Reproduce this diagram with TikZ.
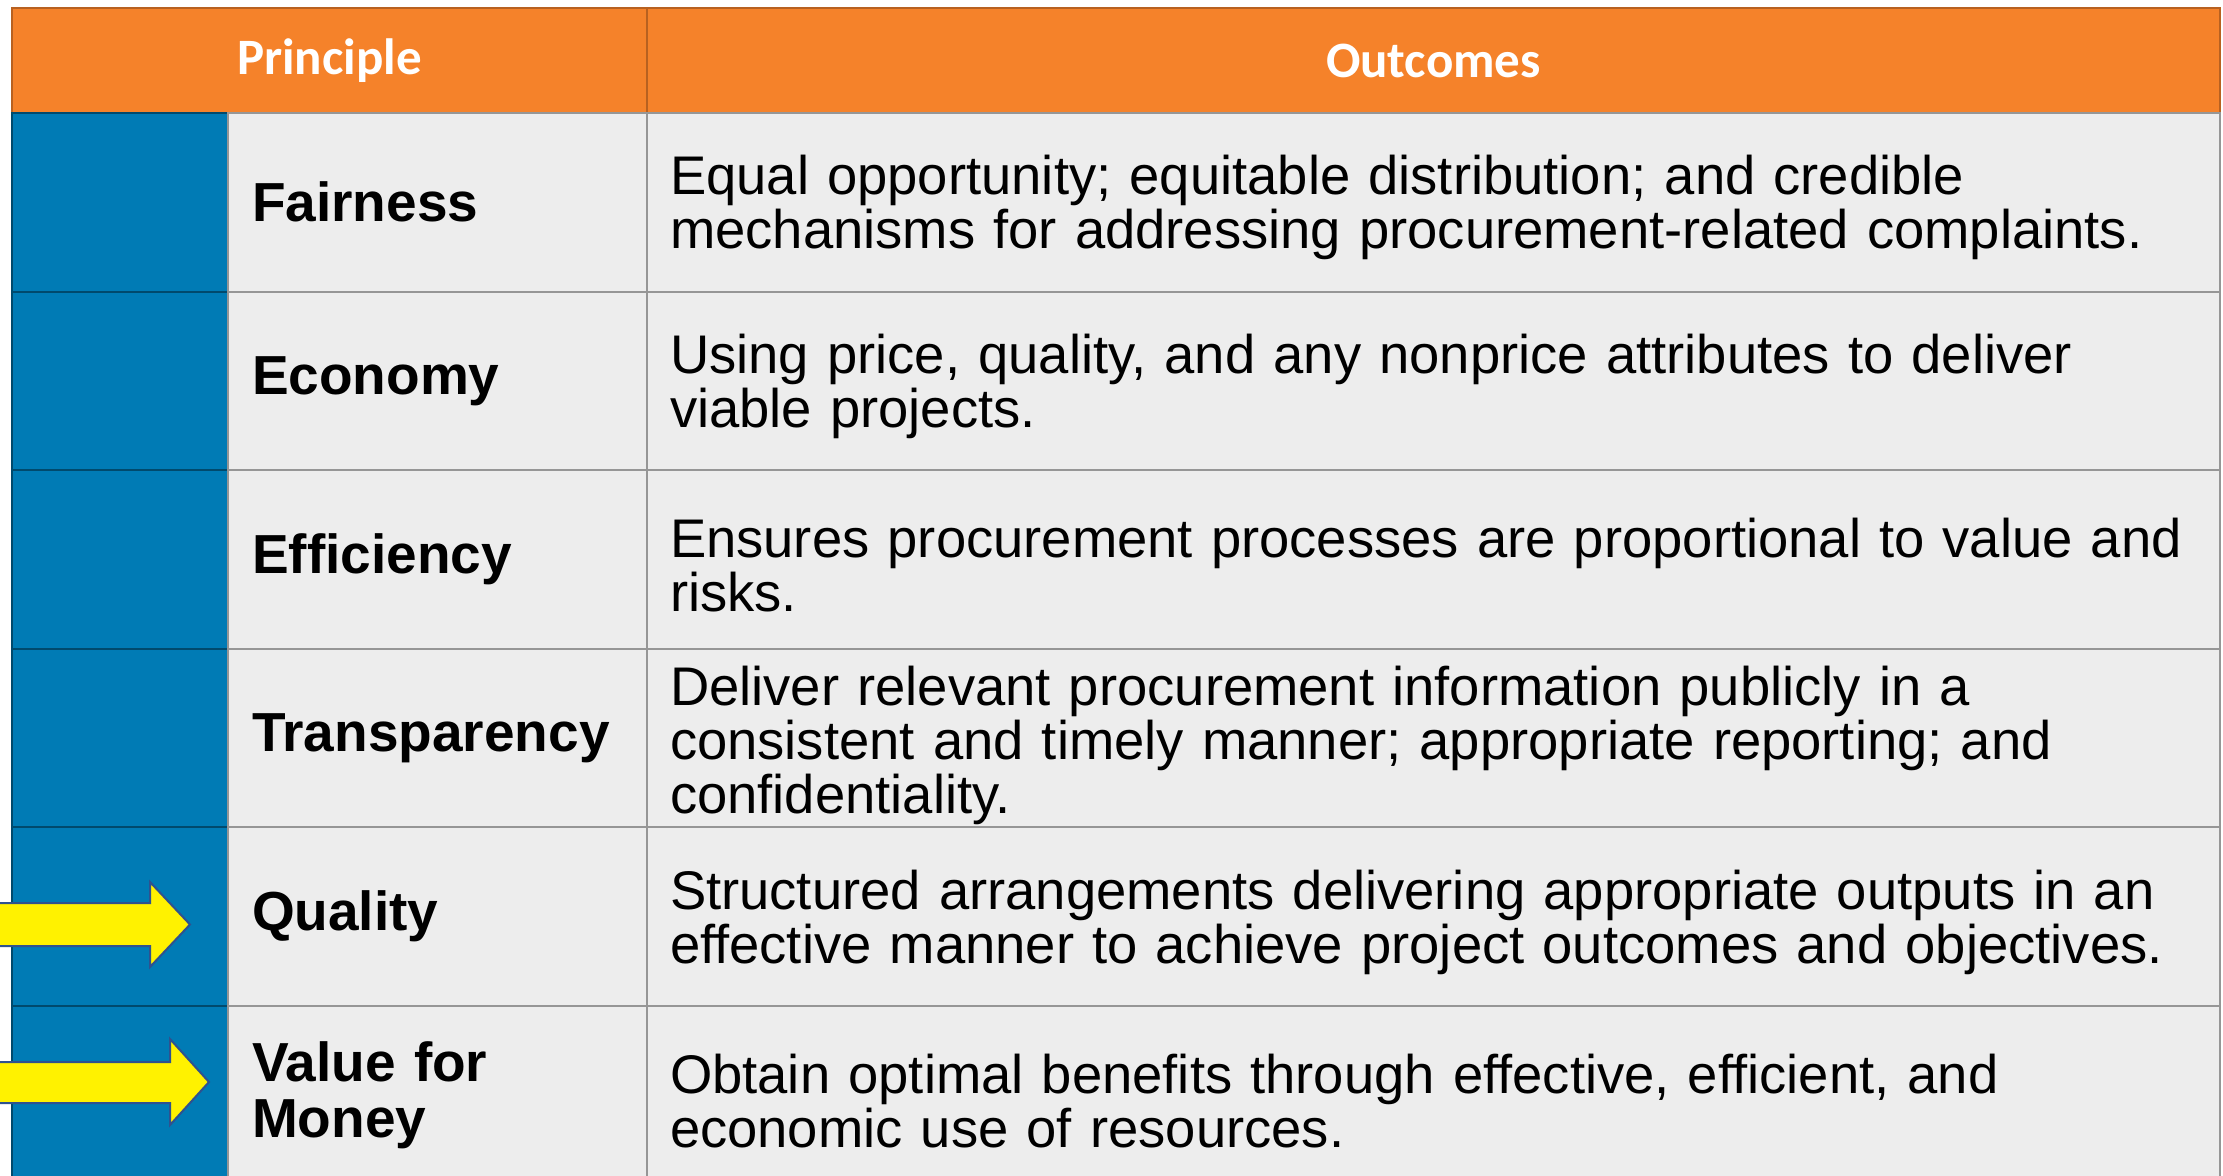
\documentclass[tikz,border=0pt]{standalone}
\usepackage{fontspec}
\setmainfont{Liberation Sans}
\newfontfamily\hdfont{Carlito}
\usetikzlibrary{positioning}
\definecolor{hdorange}{RGB}{245,130,42}
\definecolor{sideblue}{RGB}{0,123,181}
\definecolor{cellgray}{RGB}{237,237,237}
\definecolor{gridgray}{RGB}{150,150,150}
\definecolor{arrowrim}{RGB}{47,82,143}
\tikzset{
  head/.style={
    rectangle,
    draw=hdorange!75!black,
    fill=hdorange,
    text=white,
    anchor=north west,
    minimum height=52.5pt,
    inner sep=0pt,
    font=\hdfont\bfseries\fontsize{25.5}{30}\selectfont
  },
  side/.style={
    rectangle,
    draw=sideblue!60!black,
    fill=sideblue,
    anchor=north west,
    minimum width=108pt,
    minimum height=89.3pt,
    inner sep=0pt
  },
  pname/.style={
    rectangle,
    draw=gridgray,
    fill=cellgray,
    anchor=north west,
    minimum height=89.3pt,
    text width=185.5pt,
    inner xsep=12pt,
    align=left,
    font=\bfseries\fontsize{27.5}{28}\selectfont
  },
  outcome/.style={
    rectangle,
    draw=gridgray,
    fill=cellgray,
    anchor=north west,
    minimum height=89.3pt,
    text width=763.5pt,
    inner xsep=11.5pt,
    align=left,
    font=\fontsize{27.2}{27}\selectfont,
    execute at begin node={\rule{0pt}{25pt}}
  },
  hiarrow/.style={draw=arrowrim, line width=1pt, fill=yellow}
}

\begin{document}
\begin{tikzpicture}[x=0.5pt, y=-0.5pt, line width=1pt]
    \useasboundingbox (0,0) rectangle (2223,1176);
    % header
    \node[head, minimum width=317.5pt] (hprin) at (11,7) {Principle};
    \node[head, minimum width=786.5pt] (hout) at (646,7) {Outcomes};
    % rows
    \node[side] (fair-s) at (11,112) {};
    \node[pname] (fair-p) at (227,112) {Fairness};
    \node[outcome] (fair-o) at (646,112) {Equal opportunity; equitable distribution; and credible\\mechanisms for addressing procurement-related complaints.};
    \node[side] (econ-s) at (11,290.6) {};
    \node[pname] (econ-p) at (227,290.6) {Economy};
    \node[outcome] (econ-o) at (646,290.6) {Using price, quality, and any nonprice attributes to deliver\\viable projects.};
    \node[side] (effi-s) at (11,469.2) {};
    \node[pname] (effi-p) at (227,469.2) {Efficiency};
    \node[outcome] (effi-o) at (646,469.2) {Ensures procurement processes are proportional to value and\\risks.};
    \node[side] (tran-s) at (11,647.8) {};
    \node[pname] (tran-p) at (227,647.8) {Transparency};
    \node[outcome] (tran-o) at (646,647.8) {Deliver relevant procurement information publicly in a\\consistent and timely manner; appropriate reporting; and\\confidentiality.};
    \node[side] (qual-s) at (11,826.4) {};
    \node[pname] (qual-p) at (227,826.4) {Quality};
    \node[outcome] (qual-o) at (646,826.4) {Structured arrangements delivering appropriate outputs in an\\effective manner to achieve project outcomes and objectives.};
    \node[side] (vfm-s) at (11,1005) {};
    \node[pname] (vfm-p) at (227,1005) {Value for\\Money};
    \node[outcome] (vfm-o) at (646,1005) {Obtain optimal benefits through effective, efficient, and\\economic use of resources.};
    % yellow pointers
    \draw[hiarrow] (-5,903) -- (150,903) -- (150,882) -- (190,924.5) -- (150,967) -- (150,946) -- (-5,946) -- cycle;
    \draw[hiarrow] (-5,1062) -- (170,1062) -- (170,1039) -- (209,1082) -- (170,1125) -- (170,1103) -- (-5,1103) -- cycle;
\end{tikzpicture}
\end{document}
